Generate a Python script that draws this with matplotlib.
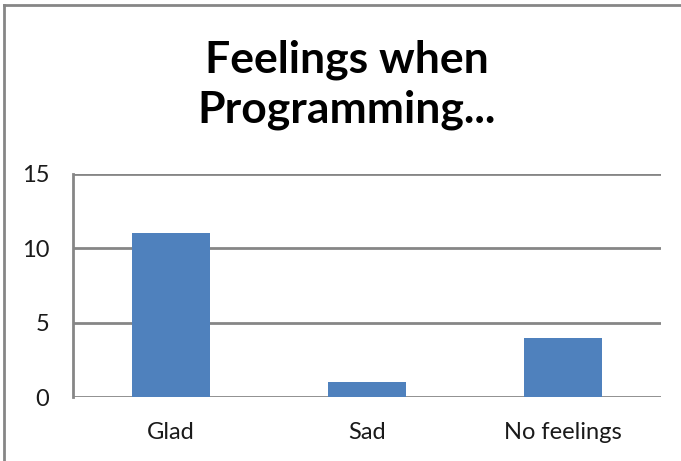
import matplotlib.pyplot as plt
from matplotlib.lines import Line2D

categories = ["Glad", "Sad", "No feelings"]
counts = [11, 1, 4]
yticks = [0, 5, 10, 15]
title_lines = ["Feelings when", "Programming..."]

plt.rcParams['font.family'] = ['Lato', 'DejaVu Sans']

W, H = 681, 461
fig = plt.figure(figsize=(W / 100, H / 100), dpi=100)
fig.patch.set_facecolor("white")

# grey chart frame: top and left edges (the rest runs off the image)
frame = dict(color="#868686", linewidth=2, transform=fig.transFigure)
fig.add_artist(Line2D([4 / W, 1], [1 - 5 / H, 1 - 5 / H], **frame))
fig.add_artist(Line2D([4 / W, 4 / W], [0, 1 - 5 / H], **frame))

ax = fig.add_axes([73 / W, 1 - 397 / H, (661 - 73) / W, (397 - 174) / H])
ax.bar(range(len(categories)), counts, width=0.4, color="#4F81BD", zorder=3)

ax.set_xlim(-0.5, len(categories) - 0.5)
ax.set_ylim(0, 15)
ax.set_yticks(yticks)
ax.set_xticks(range(len(categories)))
ax.set_xticklabels(categories)
ax.tick_params(axis="both", length=0, labelsize=17, colors="#1a1a1a")
ax.tick_params(axis="y", pad=17)
ax.tick_params(axis="x", pad=18)

ax.grid(axis="y", color="#868686", linewidth=2)
ax.set_axisbelow(True)
for s in ["top", "right", "bottom"]:
    ax.spines[s].set_visible(False)
ax.spines["left"].set_color("#868686")
ax.spines["left"].set_linewidth(2)

# two-line bold title
for line, base in zip(title_lines, [72, 122]):
    fig.text(347 / W, 1 - base / H, line, ha="center", va="baseline",
             fontsize=32, fontweight="bold", color="black")

fig.savefig("out.png", dpi=100)
